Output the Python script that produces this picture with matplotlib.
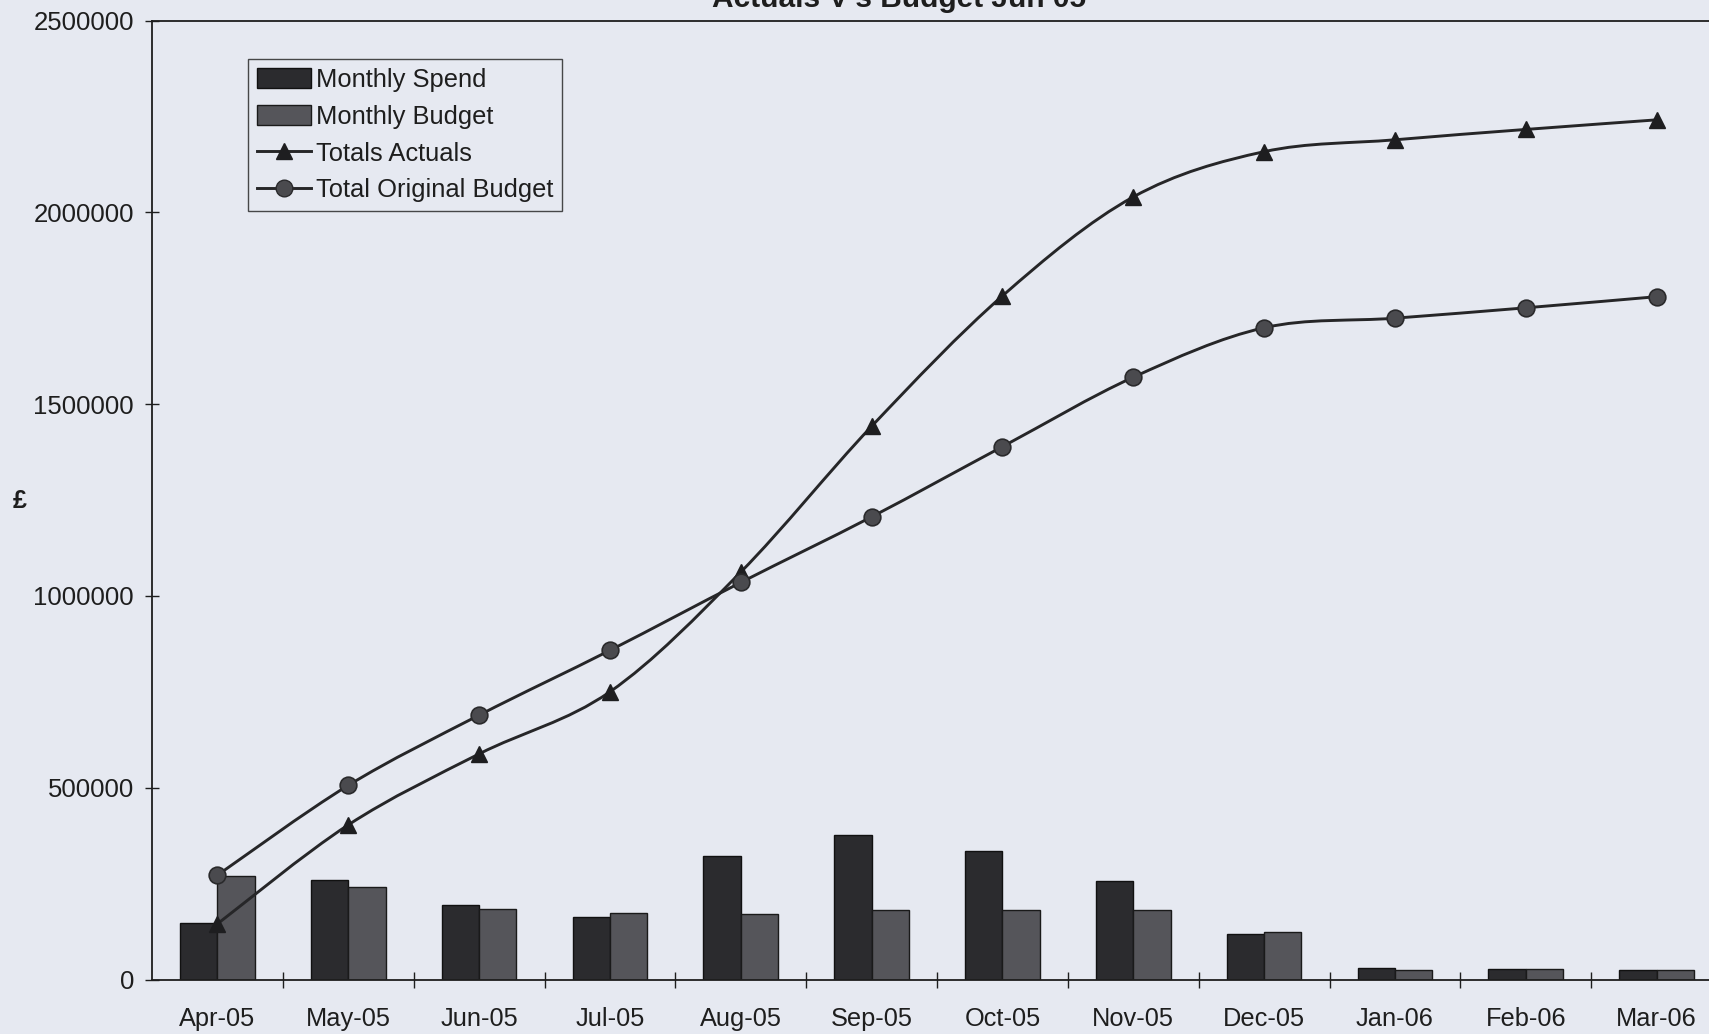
import numpy as np
import matplotlib
matplotlib.use("Agg")
import matplotlib.pyplot as plt
from matplotlib.path import Path
from matplotlib.patches import PathPatch, Patch
from matplotlib.lines import Line2D

# ---- data -------------------------------------------------------------
months = ["Apr-05", "May-05", "Jun-05", "Jul-05", "Aug-05", "Sep-05",
          "Oct-05", "Nov-05", "Dec-05", "Jan-06", "Feb-06", "Mar-06"]
monthly_spend = [147000, 259000, 195000, 162000, 321000, 377000,
                 336000, 256000, 118000, 30000, 27000, 26000]
monthly_budget = [271000, 241000, 185000, 173000, 172000, 180000,
                  180000, 180000, 125000, 26000, 27000, 26000]
totals_actuals = [145000, 403000, 588000, 750000, 1062000, 1442000,
                  1782000, 2040000, 2158000, 2189000, 2216000, 2241000]
total_original_budget = [272000, 506000, 689000, 858000, 1035000, 1206000,
                         1389000, 1570000, 1699000, 1724000, 1751000, 1780000]
y_ticks = [0, 500000, 1000000, 1500000, 2000000, 2500000]

# ---- style ------------------------------------------------------------
BG = "#e6e9f1"
SPEND_C = "#2b2b2e"
BUDGET_C = "#55555a"
LINE_C = "#262628"
TEXT_C = "#1e1e1e"
FONT = "Liberation Sans"

plt.rcParams["font.family"] = [FONT, "DejaVu Sans"]

W, H = 1709, 1034
fig = plt.figure(figsize=(W / 100, H / 100), dpi=100, facecolor=BG)
ax = fig.add_axes([152 / W, 1 - 979.5 / H, 1570 / W, 959 / H])
ax.set_facecolor(BG)

x = np.arange(len(months))
bw = 1 / 3.5  # Excel gap width 150%

ax.bar(x - bw / 2, monthly_spend, width=bw, color=SPEND_C,
       edgecolor="#111111", linewidth=1.0, zorder=2)
ax.bar(x + bw / 2, monthly_budget, width=bw, color=BUDGET_C,
       edgecolor="#1a1a1a", linewidth=1.0, zorder=2)


def smooth_path(xs, ys):
    """Bezier path through the points, using Catmull-Rom style tangents."""
    pts = np.column_stack([xs, ys]).astype(float)
    n = len(pts)
    verts = [pts[0]]
    codes = [Path.MOVETO]
    for i in range(n - 1):
        p0 = pts[i - 1] if i > 0 else pts[i]
        p1 = pts[i]
        p2 = pts[i + 1]
        p3 = pts[i + 2] if i + 2 < n else pts[i + 1]
        verts += [p1 + (p2 - p0) / 6, p2 - (p3 - p1) / 6, p2]
        codes += [Path.CURVE4] * 3
    return Path(verts, codes)


for series in (totals_actuals, total_original_budget):
    ax.add_patch(PathPatch(smooth_path(x, series), facecolor="none",
                           edgecolor=LINE_C, linewidth=2.1, zorder=3,
                           transform=ax.transData))

ax.plot(x, totals_actuals, linestyle="none", marker="^", markersize=12,
        markerfacecolor="#1e1e20", markeredgecolor="#1e1e20", zorder=4)
ax.plot(x, total_original_budget, linestyle="none", marker="o",
        markersize=12, markerfacecolor="#4a4a4e", markeredgecolor="#2a2a2c",
        markeredgewidth=1.2, zorder=4)

# ---- axes -------------------------------------------------------------
ax.set_xlim(-0.5, len(months) - 0.5)
ax.set_ylim(0, 2500000)
ax.set_yticks(y_ticks)
ax.set_yticklabels([str(v) for v in y_ticks])
ax.tick_params(axis="y", direction="inout", length=10, width=1.0,
               pad=8.0, labelsize=18.5, colors=TEXT_C)

ax.set_xticks(x[:-1] + 0.5)
ax.set_xticklabels([])
ax.set_xticks(x, minor=True)
ax.set_xticklabels(months, minor=True)
ax.tick_params(axis="x", which="major", direction="inout", length=12,
               width=1.0, colors=TEXT_C)
ax.tick_params(axis="x", which="minor", length=0, pad=20, labelsize=18.3,
               labelcolor=TEXT_C)

for side in ("left", "bottom", "top", "right"):
    ax.spines[side].set_color("#1e1e1e")
    ax.spines[side].set_linewidth(1.3)

fig.text(19.6 / W, 1 - 501 / H, "£", fontsize=18, fontweight="bold",
         ha="center", va="center", color=TEXT_C)
fig.text(899 / W, 1 - 7 / H, "Actuals V's Budget Jun 05", fontsize=21.5,
         fontweight="bold", ha="center", va="baseline", color=TEXT_C)

handles = [
    Patch(facecolor=SPEND_C, edgecolor="#111111", linewidth=1.0),
    Patch(facecolor=BUDGET_C, edgecolor="#1a1a1a", linewidth=1.0),
    Line2D([], [], color=LINE_C, linewidth=2.1, marker="^", markersize=12,
           markerfacecolor="#1e1e20", markeredgecolor="#1e1e20"),
    Line2D([], [], color=LINE_C, linewidth=2.1, marker="o", markersize=12,
           markerfacecolor="#4a4a4e", markeredgecolor="#2a2a2c"),
]
labels = ["Monthly Spend", "Monthly Budget", "Totals Actuals",
          "Total Original Budget"]
leg = ax.legend(handles, labels, loc="upper left",
                bbox_to_anchor=((248 - 152) / 1570, (979.5 - 59) / 959),
                borderaxespad=0, fontsize=18.4, handlelength=2.1,
                handleheight=0.85, handletextpad=0.2, labelspacing=0.5,
                borderpad=0.35, fancybox=False, frameon=True,
                facecolor=BG, edgecolor="#1e1e1e", labelcolor=TEXT_C)
leg.get_frame().set_linewidth(1.0)

fig.savefig("out.png", dpi=100, facecolor=BG)
